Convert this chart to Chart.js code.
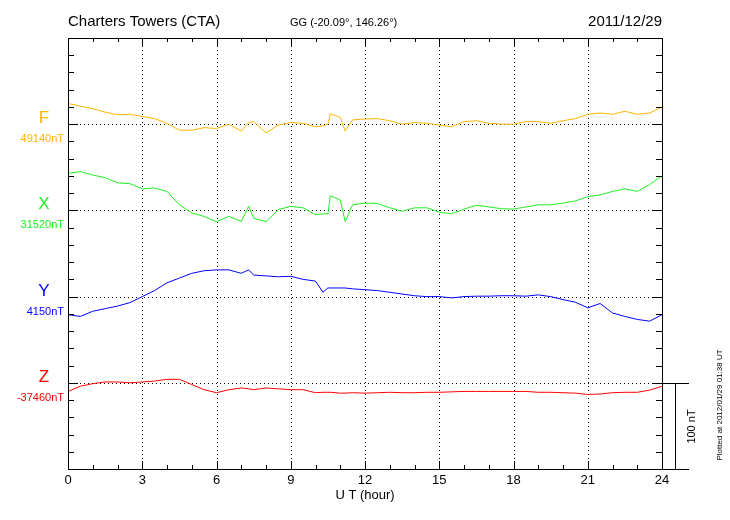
<!DOCTYPE html>
<html>
<head>
<meta charset="utf-8">
<script src="https://cdn.jsdelivr.net/npm/chart.js@4"></script>
<style>
  body { margin: 0; background: #fff; }
  #wrap { width: 730px; height: 520px; }
</style>
</head>
<body>
<div id="wrap"><canvas id="magChart" width="730" height="520"></canvas></div>
<script>
// hours (UT), a few extra points where the traces have spikes
var saatler = [0,0.5,1,1.5,2,2.5,3,3.5,4,4.5,5,5.5,6,6.5,7,7.3,7.5,8,8.5,9,9.5,10,10.3,10.5,10.6,11,11.2,11.5,
  12,12.5,13,13.5,14,14.5,15,15.5,16,16.5,17,17.5,18,18.5,19,19.5,20,20.5,21,21.5,22,22.5,23,23.5,24];

// deviation from base value (nT)
var fDegerleri = [24,21,18,14,11,11.5,9,6.5,1,-7,-7,-4,-5,0,-8,2,3,-10,-1,2,1,-3,-2,0,12,8,-8,5,
  6,6.5,4,0,2,1,-1,-3,3,4,1,0,0,3,3,1,4,6.5,11.5,13,11.5,15,11.5,13,20];
var xDegerleri = [43,45,41,38,32,31,25,26,22,6.5,-3,-7,-13,-7,-13,5,-9,-13,1,4.6,3,-5,-4,-4,17,12,-13,6.5,
  8.5,8,3,-1,3,3,-2,-4,1.5,6,4,2,1.5,4,6.5,6.5,8.5,11,16,18,22,25,22,30,40];
var yDegerleri = [-21,-23,-17,-14,-11,-7,0,7,16,21.5,27,30,31,31,27,31,25,24,23,23.5,20,18,5,10,10,10,10,9,
  8,7,5,3,1,0,0,-1.5,0,0.5,0.5,1,1,0.5,2,0,-3.5,-6.5,-13,-8,-19,-23,-26.5,-28.5,-21];
var zDegerleri = [-10,-4,-1,1,1,0,1,2,4,4,-2,-8,-11.5,-8,-6,-7,-8,-6,-7,-8,-8,-11.5,-11,-11,-11,-12,-12,-11.5,
  -12,-11.5,-11,-11.5,-11.5,-11,-11,-10.5,-10,-10,-10,-10,-10,-10,-11,-11,-11.5,-12,-13.5,-13,-11.5,-11,-11,-8.5,-4];

var bilesenAdlari = ["F","X","Y","Z"];
var tabanDegerleri = ["49140nT","31520nT","4150nT","-37460nT"];
var renkler = ["#ffb400","#22ee22","#0000ff","#ff0000"];
var ofsetler = [400,300,200,100];
var xEtiketleri = [0,3,6,9,12,15,18,21,24];

var tumSeriler = [fDegerleri,xDegerleri,yDegerleri,zDegerleri];
var veriSetleri = [];
for (var i = 0; i < tumSeriler.length; i++) {
  var noktalar = [];
  for (var j = 0; j < saatler.length; j++) {
    noktalar.push({x: saatler[j], y: ofsetler[i] + tumSeriler[i][j]});
  }
  veriSetleri.push({label: bilesenAdlari[i], data: noktalar, borderColor: renkler[i],
    borderWidth: 1, pointRadius: 0, tension: 0});
}

var FONT = "'Liberation Sans', Arial, sans-serif";

var cizimEklentisi = {
  id: "cizim",
  beforeDatasetsDraw: function (chart) {
    var c = chart.ctx, a = chart.chartArea, sx = chart.scales.x, sy = chart.scales.y;
    c.save();
    c.strokeStyle = "#000";
    c.lineWidth = 1;
    c.setLineDash([1,3]);
    for (var h = 3; h < 24; h += 3) {
      var px = Math.round(sx.getPixelForValue(h)) + 0.5;
      c.beginPath(); c.moveTo(px, a.top); c.lineTo(px, a.bottom); c.stroke();
    }
    for (var k = 0; k < ofsetler.length; k++) {
      var py = Math.round(sy.getPixelForValue(ofsetler[k])) + 0.5;
      c.beginPath(); c.moveTo(a.left, py); c.lineTo(a.right, py); c.stroke();
    }
    c.restore();
  },
  afterDraw: function (chart) {
    var c = chart.ctx, a = chart.chartArea, sx = chart.scales.x, sy = chart.scales.y;
    c.save();
    c.strokeStyle = "#000";
    c.lineWidth = 1;
    c.strokeRect(Math.round(a.left) + 0.5, Math.round(a.top) + 0.5, Math.round(a.right - a.left), Math.round(a.bottom - a.top));
    // ticks
    c.beginPath();
    for (var h = 0; h <= 24; h++) {
      var px = Math.round(sx.getPixelForValue(h)) + 0.5;
      var len = (h % 3 == 0) ? 8 : 4;
      c.moveTo(px, a.bottom); c.lineTo(px, a.bottom - len);
      c.moveTo(px, a.top); c.lineTo(px, a.top + len);
    }
    for (var v = 0; v <= 500; v += 20) {
      var py = Math.round(sy.getPixelForValue(v)) + 0.5;
      var l2 = (v % 100 == 0) ? 10 : 6;
      c.moveTo(a.left, py); c.lineTo(a.left + l2, py);
      c.moveTo(a.right, py); c.lineTo(a.right - l2, py);
    }
    c.stroke();
    // x labels
    c.fillStyle = "#000";
    c.font = "13px " + FONT;
    c.textAlign = "center";
    c.textBaseline = "top";
    for (var i = 0; i < xEtiketleri.length; i++) {
      c.fillText(String(xEtiketleri[i]), sx.getPixelForValue(xEtiketleri[i]), a.bottom + 5);
    }
    c.fillText("U T (hour)", (a.left + a.right) / 2, a.bottom + 20);
    // titles
    c.textBaseline = "alphabetic";
    c.font = "15px " + FONT;
    c.textAlign = "left";
    c.fillText("Charters Towers (CTA)", 68, 26);
    c.textAlign = "right";
    c.fillText("2011/12/29", a.right, 26);
    c.textAlign = "left";
    c.font = "11px " + FONT;
    c.fillText("GG (-20.09°, 146.26°)", 290, 26);
    // component labels
    for (var k = 0; k < bilesenAdlari.length; k++) {
      var by = sy.getPixelForValue(ofsetler[k]);
      c.fillStyle = renkler[k];
      c.textAlign = "center";
      c.font = "17px " + FONT;
      c.fillText(bilesenAdlari[k], 44, by - 1);
      c.font = "11px " + FONT;
      c.textAlign = "right";
      c.fillText(tabanDegerleri[k], 64, by + 18);
    }
    // 100 nT scale bar
    var y100 = Math.round(sy.getPixelForValue(100)) + 0.5, y0 = Math.round(sy.getPixelForValue(0)) + 0.5;
    c.strokeStyle = "#000";
    c.beginPath();
    c.moveTo(a.right, y100); c.lineTo(a.right + 27, y100);
    c.moveTo(a.right + 13.5, y100); c.lineTo(a.right + 13.5, y0);
    c.moveTo(a.right, y0); c.lineTo(a.right + 27, y0);
    c.stroke();
    c.fillStyle = "#000";
    c.save();
    c.translate(a.right + 30, (y100 + y0) / 2);
    c.rotate(-Math.PI / 2);
    c.textAlign = "center";
    c.textBaseline = "middle";
    c.font = "11px " + FONT;
    c.fillText("100 nT", 0, 0);
    c.restore();
    c.save();
    c.translate(720, 405);
    c.rotate(-Math.PI / 2);
    c.textAlign = "center";
    c.textBaseline = "middle";
    c.font = "8px " + FONT;
    c.fillText("Plotted at 2012/01/29 01:38 UT", 0, 0);
    c.restore();
    c.restore();
  }
};

var ctx = document.getElementById("magChart");
var grafik = new Chart(ctx, {
  type: "line",
  data: { datasets: veriSetleri },
  options: {
    responsive: false,
    animation: false,
    layout: { padding: { left: 68, right: 68, top: 38, bottom: 51 } },
    plugins: { legend: { display: false }, tooltip: { enabled: false } },
    scales: {
      x: { type: "linear", min: 0, max: 24, display: false },
      y: { min: 0, max: 500, display: false }
    }
  },
  plugins: [cizimEklentisi]
});
</script>
</body>
</html>
